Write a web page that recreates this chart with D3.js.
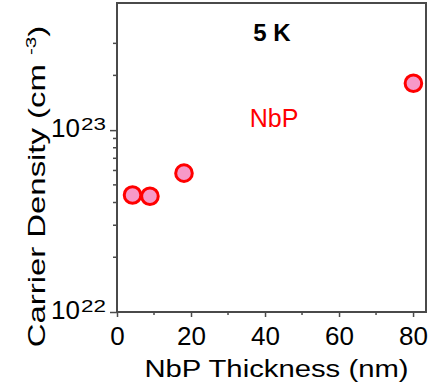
<!DOCTYPE html>
<html>
<head>
<meta charset="utf-8">
<script src="https://cdn.jsdelivr.net/npm/d3@7"></script>
<style>
  html, body { margin: 0; padding: 0; background: #fff; }
  svg { display: block; font-family: Arial, "Liberation Sans", sans-serif; }
</style>
</head>
<body>
<div id="chart"></div>
<script>
// data
const thickness = [4.2, 8.9, 18.1, 80.1]            // nm
const density = [4.4e22, 4.33e22, 5.8e22, 1.81e23]  // cm^-3
const xTicks = [0, 20, 40, 60, 80]
const xMinor = [10, 30, 50, 70]
const yTicks = [1e22, 1e23]
const yTickExp = ['22', '23']
const yMinor = [2e22, 3e22, 4e22, 5e22, 6e22, 7e22, 8e22, 9e22, 2e23, 3e23]

const W = 433, H = 391
const pLeft = 117, pRight = 426, pTop = 3, pBottom = 312
const axisColor = '#4a4a4a'

const svg = d3.select('#chart').append('svg')
  .attr('width', W)
  .attr('height', H)

const x = d3.scaleLinear().domain([0, 83.5]).range([pLeft, pRight])
const y = d3.scaleLog().domain([1e22, 5e23]).range([pBottom, pTop])

// x axis
const xAxis = svg.append('g')
  .attr('transform', 'translate(0,' + pBottom + ')')
  .call(d3.axisBottom(x).tickValues(xTicks).tickSize(5).tickFormat(d3.format('d')))
xAxis.selectAll('text').attr('font-size', 26).attr('dy', '0.98em').attr('fill', '#000')
xAxis.append('g').selectAll('line')
  .data(xMinor).enter().append('line')
  .attr('x1', d => x(d)).attr('x2', d => x(d))
  .attr('y1', 0).attr('y2', 3)

// y axis
const yAxis = svg.append('g')
  .attr('transform', 'translate(' + pLeft + ',0)')
  .call(d3.axisLeft(y).tickValues(yTicks).tickSize(7).tickFormat(''))
yAxis.append('g').selectAll('line')
  .data(yMinor).enter().append('line')
  .attr('x1', 0).attr('x2', -4)
  .attr('y1', d => y(d)).attr('y2', d => y(d))

svg.selectAll('.domain').remove()
svg.selectAll('.tick line, g line').attr('stroke', axisColor).attr('stroke-width', 1.5)

// y tick labels, 10 with a wide superscript exponent
svg.append('g').selectAll('text')
  .data(yTicks).enter().append('text')
  .attr('x', 80)
  .attr('y', d => y(d) + 6.5)
  .attr('text-anchor', 'end')
  .attr('font-size', 26)
  .text('10')
svg.append('g').selectAll('text')
  .data(yTicks).enter().append('text')
  .attr('transform', d => 'translate(81,' + y(d) + ') scale(1.4,1)')
  .attr('font-size', 16)
  .text((d, i) => yTickExp[i])

// frame
svg.append('rect')
  .attr('x', pLeft).attr('y', pTop)
  .attr('width', pRight - pLeft).attr('height', pBottom - pTop)
  .attr('fill', 'none')
  .attr('stroke', axisColor)
  .attr('stroke-width', 2)

// axis titles
svg.append('text')
  .attr('transform', 'translate(276.5,377) scale(1.22,1)')
  .attr('text-anchor', 'middle')
  .attr('font-size', 24)
  .text('NbP Thickness (nm)')

const yTitle = svg.append('text')
  .attr('transform', 'translate(45,186.5) rotate(-90) scale(1.37,1)')
  .attr('text-anchor', 'middle')
  .attr('font-size', 24)
yTitle.append('tspan').text('Carrier Density (cm ')
yTitle.append('tspan').attr('font-size', 15).attr('dy', -9).text('-3')
yTitle.append('tspan').attr('dy', 9).text(')')

// annotations
svg.append('text')
  .attr('x', 272).attr('y', 41)
  .attr('text-anchor', 'middle')
  .attr('font-size', 24)
  .attr('font-weight', 'bold')
  .text('5 K')

svg.append('text')
  .attr('x', 274).attr('y', 127)
  .attr('text-anchor', 'middle')
  .attr('font-size', 25)
  .attr('fill', '#ff0000')
  .text('NbP')

// points
svg.append('g').selectAll('circle')
  .data(thickness).enter().append('circle')
  .attr('cx', d => x(d))
  .attr('cy', (d, i) => y(density[i]))
  .attr('r', 8.3)
  .attr('fill', '#f799c8')
  .attr('stroke', '#ff0000')
  .attr('stroke-width', 3)
</script>
</body>
</html>
